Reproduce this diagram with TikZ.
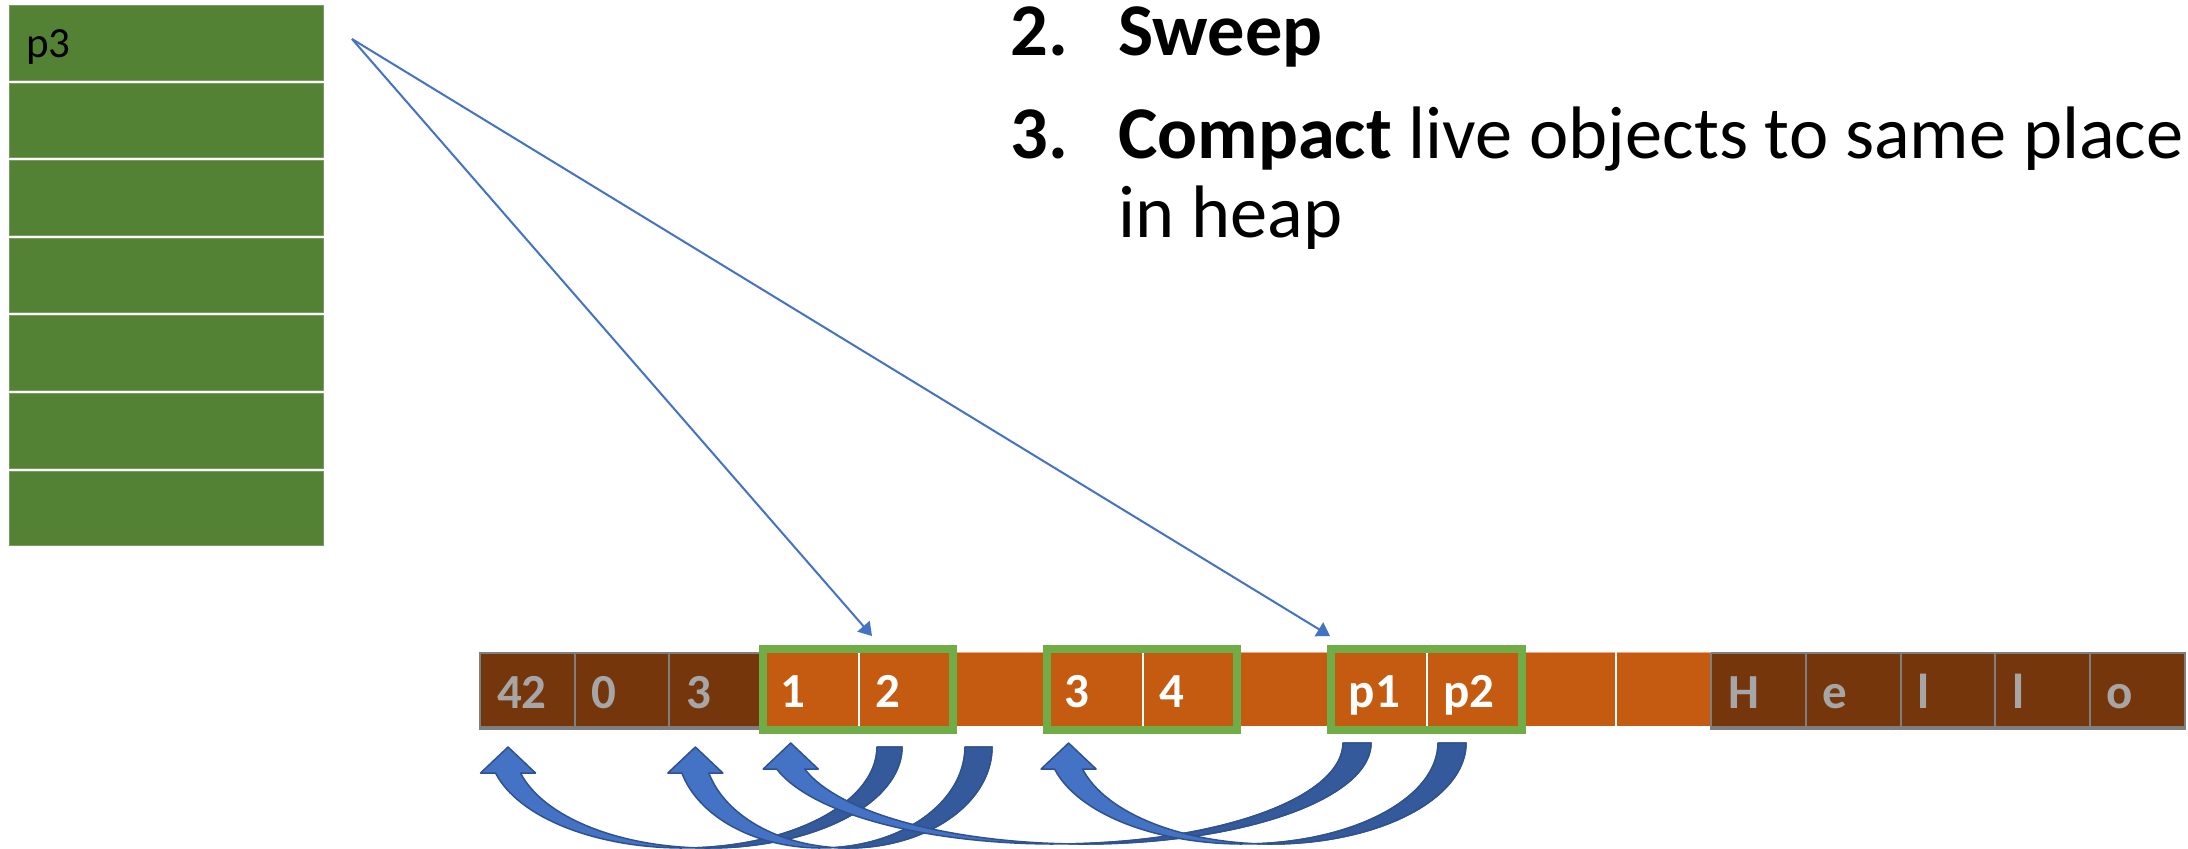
\documentclass[tikz,border=0pt]{standalone}
\usepackage{fontspec}
\setmainfont{Carlito}
\usetikzlibrary{arrows.meta,calc,fit}

\definecolor{stackgreen}{HTML}{548235}
\definecolor{stackedge}{HTML}{7A9C63}
\definecolor{deadbrown}{HTML}{75360B}
\definecolor{freeorange}{HTML}{C55A11}
\definecolor{orangeedge}{HTML}{EFA97C}
\definecolor{liveframe}{HTML}{70AD47}
\definecolor{cellgrey}{HTML}{7F7F7F}
\definecolor{deadtext}{HTML}{A6A6A6}
\definecolor{ptrblue}{HTML}{4472C4}
\definecolor{arrowlight}{HTML}{4472C4}
\definecolor{arrowdark}{HTML}{345A9B}
\definecolor{arrowedge}{HTML}{2F528F}

% Curved "move" arrow: band between two horizontally shifted half ellipses,
% tail at the right (darker back face), head at the left pointing up.
% #1 name, #2 tail right edge, #3 band thickness, #4 horizontal radius,
% #5 depth, #6 top, #7 head length, #8 head width
\newcommand\curvedmove[8]{%
  \pgfmathsetmacro\ArcA{#2-#4}%
  \pgfmathsetmacro\ArcB{\ArcA-#3}%
  \pgfmathsetmacro\ArcPhiH{180-asin(#7/#5)}%
  \pgfmathsetmacro\ArcDx{#4*cos(asin(#7/#5))}%
  \pgfmathsetmacro\ArcYH{#6+#7}%
  \pgfmathsetmacro\ArcXL{\ArcB-\ArcDx}%
  \pgfmathsetmacro\ArcXR{\ArcA-\ArcDx}%
  \pgfmathsetmacro\ArcDh{(#8-#3)/2}%
  \pgfmathsetmacro\ArcTip{(\ArcXL+\ArcXR)/2}%
  \pgfmathsetmacro\ArcPhiM{acos(#3/(2*#4))}%
  \pgfmathsetmacro\ArcPsiM{180-\ArcPhiM}%
  \coordinate (#1-tip) at (\ArcTip,#6);
  \filldraw[movebody]
    (#1-tip) -- (\ArcXR+\ArcDh,\ArcYH) -- (\ArcXR,\ArcYH)
    -- plot[domain=\ArcPhiH:0, samples=70] ({\ArcA+#4*cos(\x)},{#6+#5*sin(\x)})
    -- plot[domain=0:\ArcPhiH, samples=70] ({\ArcB+#4*cos(\x)},{#6+#5*sin(\x)})
    -- (\ArcXL-\ArcDh,\ArcYH) -- cycle;
  \filldraw[moveback]
    plot[domain=0:\ArcPsiM, samples=50] ({\ArcA+#4*cos(\x)},{#6+#5*sin(\x)})
    -- plot[domain=\ArcPhiM:0, samples=50] ({\ArcB+#4*cos(\x)},{#6+#5*sin(\x)})
    -- cycle;
}

\begin{document}
\begin{tikzpicture}[x=0.5pt,y=-0.5pt,
  slot/.style={rectangle, fill=stackgreen, draw=stackedge, line width=0.5pt,
    minimum width=157pt, minimum height=37.25pt, inner sep=0pt, anchor=north west},
  cell/.style={rectangle, minimum width=47.35pt, minimum height=37pt,
    inner xsep=8.5pt, inner ysep=0pt, text width=30.35pt, align=left,
    text height=18pt, text depth=0pt, anchor=north west,
    font=\fontsize{24.5}{28}\selectfont\bfseries},
  dead/.style={cell, fill=deadbrown, draw=cellgrey, line width=1pt, text=deadtext},
  live/.style={cell, fill=freeorange, text=white},
  frame/.style={draw=liveframe, line width=4pt, inner xsep=0pt, inner ysep=1.5pt},
  ptr/.style={draw=ptrblue, line width=1pt, -{Triangle[length=6.5pt,width=8pt]}},
  heading/.style={anchor=base west, inner sep=0pt, font=\fontsize{37.2}{44}\selectfont},
  boldheading/.style={heading, font=\fontsize{37.2}{44}\selectfont\bfseries},
  movebody/.style={fill=arrowlight, draw=arrowedge, line width=0.75pt, line join=round},
  moveback/.style={fill=arrowdark, draw=arrowedge, line width=0.75pt, line join=round}]

\path[fill=white, use as bounding box] (0,0) rectangle (2188,848);

% stack slots
\foreach \k in {1,...,7}
  \node[slot] (s\k) at (9,{5+(\k-1)*77.6}) {};
\node[anchor=base west, inner sep=0pt, font=\fontsize{21.5}{26}\selectfont]
  (p3) at ($(s1.north west)+(17,52)$) {p3};

% heap cells
\foreach \i/\t/\s in {0/42/dead,1/0/dead,2/3/dead,3/1/live,4/2/live,5//live,
    6/3/live,7/4/live,8//live,9/p1/live,10/p2/live,11//live,12//live,
    13/H/dead,14/e/dead,15/l/dead,16/l/dead,17/o/dead}
  \node[\s] (c\i) at ({479+\i*94.7},652) {\t};

\draw[orangeedge, line width=0.5pt] (c3.north west) -- (c12.north east);
\foreach \i in {3,6,9,11}
  \draw[white, line width=1pt] (c\i.north east) -- (c\i.south east);
\draw[cellgrey, line width=2pt] (c0.south west) -- (c2.south east);
\draw[cellgrey, line width=2pt] (c13.south west) -- (c17.south east);

% live objects
\node[frame, fit=(c3)(c4)] (g1) {};
\node[frame, fit=(c6)(c7)] (g2) {};
\node[frame, fit=(c9)(c10)] (g3) {};

% pointers from the stack slot
\coordinate (src) at (352,39);
\coordinate (tipA) at (872,636);
\coordinate (tipB) at (1330,636);
\draw[ptr] (src) -- (tipA);
\draw[ptr] (src) -- (tipB);

% headings
\node[boldheading] (n2) at (1010,55) {2.};
\node[boldheading] (h2) at (1118,55) {Sweep};
\node[boldheading] (n3) at (1010,158) {3.};
\node[heading] (h3) at (1118,158) {\textbf{Compact} live objects to same place};
\node[heading] (h3b) at (1118,237) {in heap};

% compaction moves
\curvedmove{m1}{902}{25}{194}{101}{747}{26}{55}
\curvedmove{m2}{992}{27}{144}{101}{747}{26}{55}
\curvedmove{m3}{1371}{28}{288}{101}{743}{26}{55}
\curvedmove{m4}{1466}{28}{195}{101}{743}{26}{55}
\end{tikzpicture}
\end{document}
